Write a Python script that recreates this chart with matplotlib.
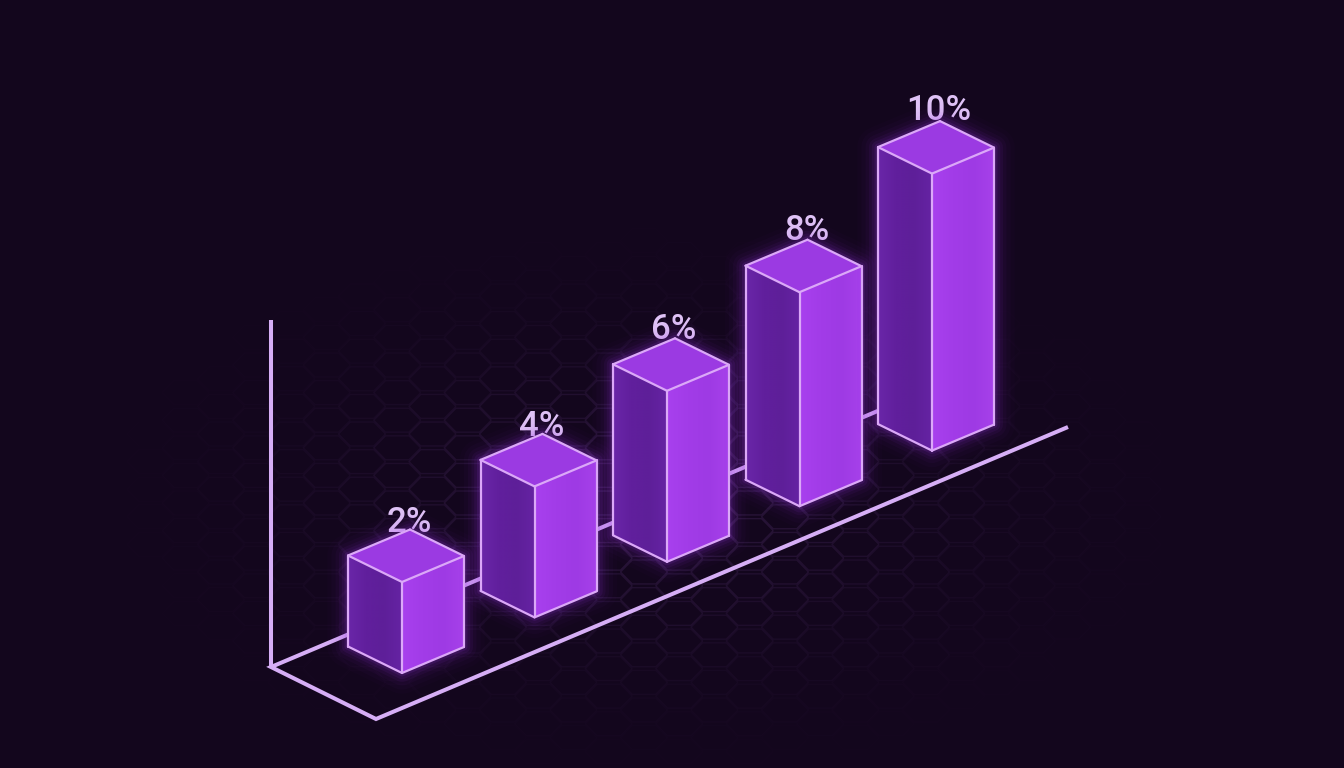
import numpy as np
import matplotlib
matplotlib.use('Agg')
import matplotlib.pyplot as plt
from matplotlib.collections import LineCollection
from matplotlib.colors import LinearSegmentedColormap
from matplotlib.patches import Polygon

# chart data
labels = ['2%', '4%', '6%', '8%', '10%']
values = [2, 4, 6, 8, 10]
# drawn height of each bar, the columns are not to scale
drawn_heights = [91, 131, 171, 214, 277]

BG = '#13061d'
LINE = '#d6aef6'
EDGE = '#dba8f8'
TEXT = '#dfc2f6'

# projection of the floor: x along the row of bars, d across it, h upwards
ORIGIN = np.array([402.0, 673.0])
STEP = np.array([132.5, -55.6])
LEFT = np.array([-54.0, -26.5])
RIGHT = np.array([62.0, -26.0])
UP = np.array([0.0, -1.0])


def project(pos, left=0.0, right=0.0, h=0.0):
    return ORIGIN + pos * STEP + left * LEFT + right * RIGHT + h * UP


def gradient_face(ax, pts, colors, zorder):
    # horizontal gradient clipped to the face
    cmap = LinearSegmentedColormap.from_list('face', colors)
    pts = np.array(pts)
    x0, x1 = pts[:, 0].min(), pts[:, 0].max()
    y0, y1 = pts[:, 1].min(), pts[:, 1].max()
    im = ax.imshow(np.linspace(0, 1, 64).reshape(1, -1), cmap=cmap, aspect='auto',
                   extent=(x0, x1, y1, y0), zorder=zorder, interpolation='bilinear')
    poly = Polygon(pts, closed=True, transform=ax.transData, facecolor='none', edgecolor='none')
    ax.add_patch(poly)
    im.set_clip_path(poly)


def hex_grid(ax):
    # faint honeycomb behind the bars, fades out from the middle of the floor
    r = 23.5
    dy = 13.8
    segs, cols = [], []
    for col in range(-5, 36):
        for row in range(-2, 32):
            cx = col * r * 1.5 + 80
            cy = row * dy * 2 + (col % 2) * dy + 20
            fade = np.exp(-(((cx - 650) / 300) ** 2 + ((cy - 500) / 150) ** 2))
            if fade < 0.05:
                continue
            ang = np.radians(np.arange(0, 361, 60))
            pts = np.column_stack([cx + r * np.cos(ang), cy + dy * np.sin(ang)])
            segs.append(pts)
            cols.append((0.42, 0.26, 0.55, 0.26 * fade))
    ax.add_collection(LineCollection(segs, colors=cols, linewidths=1.0, zorder=1))


fig = plt.figure(figsize=(13.44, 7.68), dpi=100, facecolor=BG)
ax = fig.add_axes([0, 0, 1, 1])
ax.set_facecolor(BG)
ax.axis('off')

hex_grid(ax)

# axes of the floor
corner = project(0) + np.array([-131.0, -6.0])
front_corner = np.array([376.0, 719.0])
front_end = np.array([1068.0, 427.0])
back_end = corner + (front_end - front_corner) * 0.877
axis_style = dict(color=LINE, lw=2.9, solid_capstyle='butt', solid_joinstyle='miter')
ax.plot([corner[0], corner[0]], [320, corner[1]], zorder=2, **axis_style)
ax.plot([back_end[0], corner[0], front_corner[0], front_end[0]],
        [back_end[1], corner[1], front_corner[1], front_end[1]], zorder=2, **axis_style)

for i, (lab, h) in enumerate(zip(labels, drawn_heights)):
    base = 3 + i * 3
    f_bot = project(i)
    l_bot = project(i, left=1)
    r_bot = project(i, right=1)
    f_top = project(i, h=h)
    l_top = project(i, left=1, h=h)
    r_top = project(i, right=1, h=h)
    b_top = project(i, left=1, right=1, h=h)

    # label goes under the bar, the lid just touches it
    ax.text(b_top[0] - 1, b_top[1] - 7 - i * 0.8, lab, color=TEXT, fontsize=25, family='Roboto',
            weight='medium', ha='center', va='center', zorder=base)

    # glow round the outline
    outline = np.array([f_bot, l_bot, l_top, b_top, r_top, r_bot])
    for lw, alpha in zip([30, 24, 18, 13, 9, 5], [0.016, 0.026, 0.04, 0.06, 0.08, 0.12]):
        ax.add_patch(Polygon(outline, closed=True, facecolor='none',
                             edgecolor=(0.62, 0.22, 0.92, alpha), lw=lw,
                             joinstyle='round', zorder=base))

    gradient_face(ax, [l_top, f_top, f_bot, l_bot], ['#6a26a8', '#611f9d', '#5e1f99', '#6523a3'], base + 0.1)
    gradient_face(ax, [f_top, r_top, r_bot, f_bot], ['#a840ee', '#a23ce8', '#9e3ae4', '#a641ea'], base + 0.1)
    ax.add_patch(Polygon([f_top, r_top, b_top, l_top], closed=True, facecolor='#9b3ae2',
                         edgecolor='none', zorder=base + 0.1))

    # bright edges
    edge_style = dict(color=EDGE, lw=1.6, solid_joinstyle='round', solid_capstyle='round', zorder=base + 0.2)
    for a, b in [(l_top, f_top), (f_top, r_top), (r_top, b_top), (b_top, l_top),
                 (l_top, l_bot), (l_bot, f_bot), (f_bot, r_bot), (r_bot, r_top), (f_top, f_bot)]:
        ax.plot([a[0], b[0]], [a[1], b[1]], **edge_style)

ax.set_xlim(0, 1344)
ax.set_ylim(768, 0)

fig.savefig('out.png', dpi=100, facecolor=BG)
